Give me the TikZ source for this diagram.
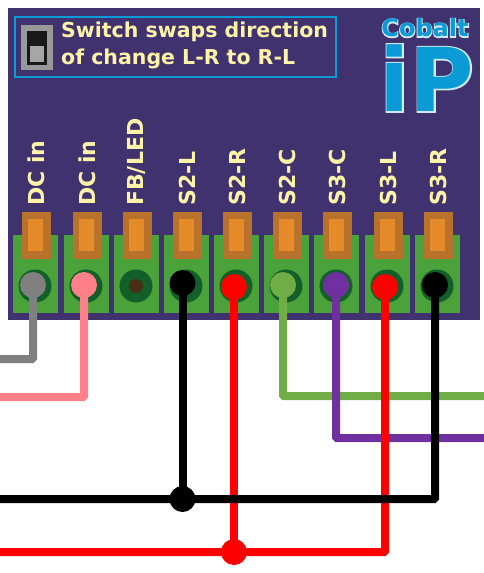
\documentclass[tikz,border=0pt]{standalone}
\usepackage{fontspec}
\setmainfont{DejaVu Sans}
\newfontfamily\cobaltedge[FakeBold=8]{DejaVu Sans Bold}
\newfontfamily\ipedge[FakeBold=3]{DejaVu Sans Bold}
\usepackage{xcolor}
\definecolor{boardblue}{HTML}{40316F}
\definecolor{logoblue}{HTML}{0A9BD6}
\definecolor{labelyellow}{HTML}{FFF3A8}
\definecolor{termgreen}{HTML}{4CA23A}
\definecolor{holegreen}{HTML}{125F2A}
\definecolor{tabbrown}{HTML}{B8722C}
\definecolor{taborange}{HTML}{E58B29}
\definecolor{wiregray}{HTML}{808080}
\definecolor{wirepink}{HTML}{FF8088}
\definecolor{wiregreen}{HTML}{70AD47}
\definecolor{wirepurple}{HTML}{7030A0}
\tikzset{
  wire/.style={line width=8pt, rounded corners=1pt},
  boardlabel/.style={rotate=90, anchor=west, text=labelyellow, inner sep=0pt, font=\bfseries\fontsize{22}{22}\selectfont},
  notetext/.style={text=labelyellow, anchor=west, inner sep=0pt, font=\bfseries\fontsize{20.5}{20.5}\selectfont},
}
\begin{document}
\begin{tikzpicture}[x=1pt, y=-1pt]
\useasboundingbox (0,0) rectangle (484,573);

% Board
\fill[boardblue] (8,8) rectangle (480,320);

% Switch note
\draw[logoblue, line width=1.2pt] (15,17) rectangle (336,77);
\fill[gray!80] (21,25) rectangle (53,70);
\fill[black!90] (27,31) rectangle (47,65);
\fill[gray!70] (30,46) rectangle (44,62);
\node[notetext] (noteone) at (61,32) {Switch swaps direction};
\node[notetext] (notetwo) at (61,59) {of change L-R to R-L};

% Logo
\node[text=white!80!logoblue, font=\cobaltedge\fontsize{24}{24}\selectfont] (cobaltedge) at (425,28) {Cobalt};
\node[text=logoblue, font=\bfseries\fontsize{24}{24}\selectfont] (cobalt) at (425,28) {Cobalt};
\node[text=white!80!logoblue, font=\ipedge\fontsize{88}{88}\selectfont] (logoedge) at (427,78) {iP};
\node[text=logoblue, font=\bfseries\fontsize{88}{88}\selectfont] (logoip) at (427,78) {iP};

% Terminals
\foreach \x/\txt [count=\i] in {13/DC in,64/DC in,114/{FB/LED},164/S2-L,214/S2-R,264/S2-C,314/S3-C,365/S3-L,415/S3-R} {
  \fill[termgreen] (\x,235) rectangle (\x+44.5,313);
  \fill[tabbrown] (\x+8.5,212) rectangle (\x+37.5,259);
  \fill[taborange] (\x+15,218.5) rectangle (\x+30,251);
  \fill[holegreen] (\x+22,286) circle (16.5);
  \node[boardlabel] (lab\i) at (\x+23,206) {\txt};
}
\fill[black!50!red!50!holegreen] (136,286) circle (7);

% Wire ends
\coordinate (grayend) at (0,359);
\coordinate (pinkend) at (0,397);
\coordinate (blackend) at (0,499);
\coordinate (redend) at (0,552);
\coordinate (greenend) at (484,396);
\coordinate (purpleend) at (484,438);
\coordinate (blackjoin) at (182.5,499);
\coordinate (redjoin) at (234,552);

% Terminal pins
\coordinate (pinA) at (33,285);
\coordinate (pinB) at (84,285);
\coordinate (pinC) at (182.5,283);
\coordinate (pinD) at (234,287);
\coordinate (pinE) at (283,285);
\coordinate (pinF) at (336,285);
\coordinate (pinG) at (385,287);
\coordinate (pinH) at (435,285);

% Wires
\draw[wire, wiregray] (pinA) |- (grayend);
\draw[wire, wirepink] (pinB) |- (pinkend);
\draw[wire, wiregreen] (pinE) |- (greenend);
\draw[wire, wirepurple] (pinF) |- (purpleend);
\draw[wire, red] (pinG) |- (redend);
\draw[wire, red] (pinD) -- (redjoin);
\draw[wire, black] (pinH) |- (blackend);
\draw[wire, black] (pinC) -- (blackjoin);

% Dots
\foreach \p/\c in {pinA/wiregray,pinB/wirepink,pinC/black,pinD/red,pinE/wiregreen,pinF/wirepurple,pinG/red,pinH/black,blackjoin/black,redjoin/red} {
  \fill[\c] (\p) circle (13);
}

\end{tikzpicture}
\end{document}
